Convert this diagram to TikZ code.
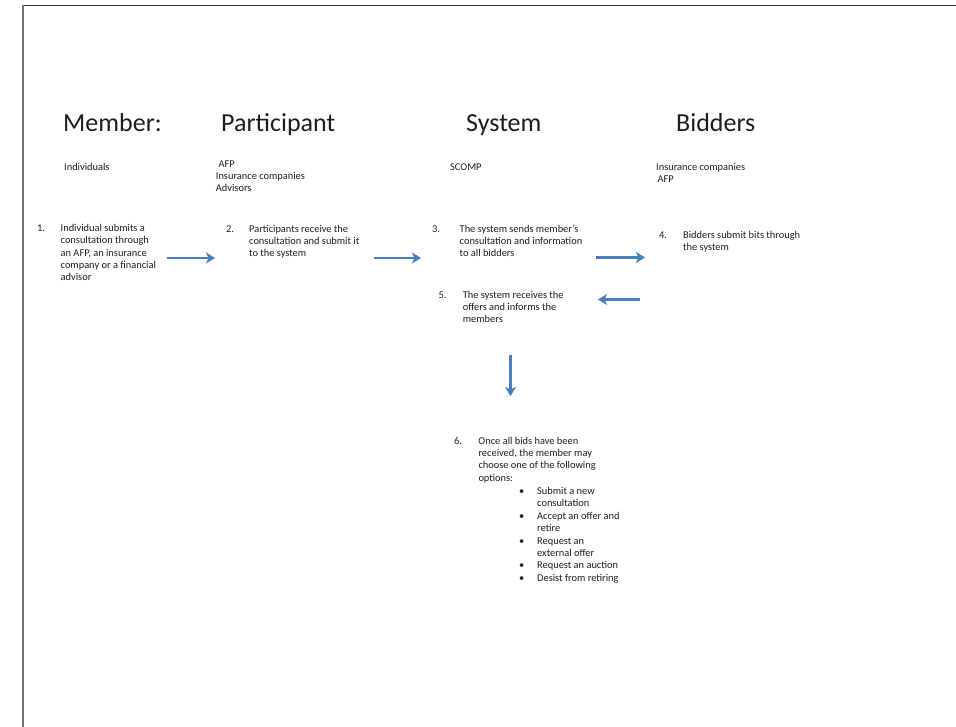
\documentclass[tikz,border=0pt]{standalone}
\usepackage{fontspec}
\setmainfont{Carlito}
\usetikzlibrary{arrows.meta}
\definecolor{arrowblue}{HTML}{4A7EBB}
\definecolor{txtcol}{HTML}{1E1E1E}
\tikzset{
  head/.style={font=\fontsize{26}{31}\selectfont, anchor=base west, inner sep=0pt, text=txtcol},
  small/.style={font=\fontsize{10.4}{12.4}\selectfont, anchor=north west, inner sep=0pt, text=txtcol},
  arr/.style={draw=arrowblue, line width=2.8pt, -{Stealth[length=9pt,width=11pt,inset=2.5pt]}},
}
\begin{document}
\begin{tikzpicture}[x=1pt,y=-1pt]
\useasboundingbox (0,0) rectangle (956,727);
\fill[white] (0,0) rectangle (956,727);
% frame
\draw[line width=1.3pt, draw=black!80] (22,5.5) -- (956,5.5);
\draw[line width=1.6pt, draw=black!55] (23,5) -- (23,727);

% headings
\node[head] (hmem) at (63,132) {Member:};
\node[head] (hpar) at (221,132) {Participant};
\node[head] (hsys) at (466,132) {System};
\node[head] (hbid) at (676,132) {Bidders};

% subtitles
\node[small] (smem) at (64,161.2) {\begin{tabular}{@{}l@{}}Individuals\end{tabular}};
\node[small] (spar) at (215.7,158.2) {\begin{tabular}{@{}l@{}}\hspace{2.6pt}AFP\\Insurance companies\\Advisors\end{tabular}};
\node[small] (ssys) at (450,161.2) {\begin{tabular}{@{}l@{}}SCOMP\end{tabular}};
\node[small] (sbid) at (656,161.2) {\begin{tabular}{@{}l@{}}Insurance companies\\\hspace{1.3pt}AFP\end{tabular}};

% steps
\node[small] (st1) at (37,222.5) {\begin{tabular}{@{}p{23.5pt}@{}l@{}}
1.&Individual submits a\\&consultation through\\&an AFP, an insurance\\&company or a financial\\&advisor\end{tabular}};
\node[small] (st2) at (226,223.2) {\begin{tabular}{@{}p{23pt}@{}l@{}}
2.&Participants receive the\\&consultation and submit it\\&to the system\end{tabular}};
\node[small] (st3) at (432,223.2) {\begin{tabular}{@{}p{27.5pt}@{}l@{}}
3.&The system sends member's\\&consultation and information\\&to all bidders\end{tabular}};
\node[small] (st4) at (659,229.7) {\begin{tabular}{@{}p{24pt}@{}l@{}}
4.&Bidders submit bits through\\&the system\end{tabular}};
\node[small] (st5) at (438.3,289.2) {\begin{tabular}{@{}p{24.4pt}@{}l@{}}
5.&The system receives the\\&offers and informs the\\&members\end{tabular}};
\node[small] (st6) at (454,435.2) {\begin{tabular}{@{}p{24.3pt}@{}l@{}}
6.&Once all bids have been\\&received, the member may\\&choose one of the following\\&options:\end{tabular}};
\node[small] (opts) at (519,485.6) {\begin{tabular}{@{}p{18pt}@{}l@{}}
\textbullet&Submit a new\\&consultation\\
\textbullet&Accept an offer and\\&retire\\
\textbullet&Request an\\&external offer\\
\textbullet&Request an auction\\
\textbullet&Desist from retiring\end{tabular}};

% arrow end points
\coordinate (a1s) at (167,258);
\coordinate (a1e) at (215,258);
\coordinate (a2s) at (374,258);
\coordinate (a2e) at (421,258);
\coordinate (a3s) at (596,257.5);
\coordinate (a3e) at (645,257.5);
\coordinate (a4s) at (640,299.5);
\coordinate (a4e) at (598,299.5);
\coordinate (a5s) at (510.5,355);
\coordinate (a5e) at (510.5,396);

\draw[arr] (a1s) -- (a1e);
\draw[arr] (a2s) -- (a2e);
\draw[arr] (a3s) -- (a3e);
\draw[arr] (a4s) -- (a4e);
\draw[arr] (a5s) -- (a5e);
\end{tikzpicture}
\end{document}
